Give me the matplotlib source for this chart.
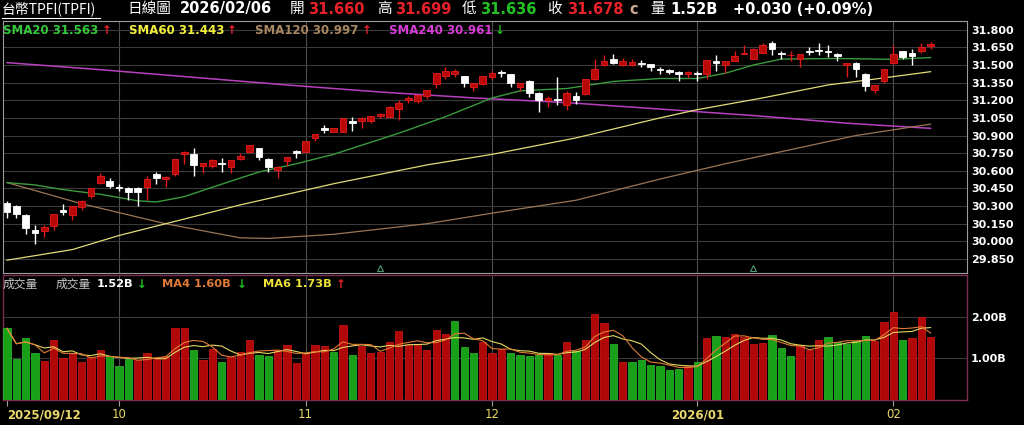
import numpy as np
import pandas as pd
import matplotlib
matplotlib.use("Agg")
import matplotlib.pyplot as plt
from matplotlib.lines import Line2D

# ---- TPFI daily candles, 2025/09/12 .. 2026/02/06 ----
opens = [30.33, 30.30, 30.22, 30.10, 30.09, 30.13, 30.27, 30.22, 30.29, 30.39,
         30.50, 30.51, 30.465, 30.45, 30.45, 30.46, 30.57, 30.53, 30.57, 30.74,
         30.74, 30.64, 30.64, 30.665, 30.63, 30.70, 30.76, 30.79, 30.70, 30.61,
         30.68, 30.765, 30.76, 30.88, 30.96, 30.93, 30.93, 31.025, 31.02, 31.02,
         31.07, 31.06, 31.125, 31.20, 31.19, 31.24, 31.34, 31.405, 31.42, 31.405,
         31.31, 31.34, 31.40, 31.44, 31.42, 31.31, 31.365, 31.265, 31.20, 31.21,
         31.16, 31.24, 31.25, 31.38, 31.50, 31.55, 31.50, 31.50, 31.515, 31.505,
         31.465, 31.455, 31.44, 31.42, 31.43, 31.42, 31.53, 31.50, 31.535, 31.593,
         31.555, 31.605, 31.685, 31.605, 31.582, 31.55, 31.615, 31.63, 31.62, 31.595,
         31.50, 31.52, 31.42, 31.29, 31.36, 31.52, 31.615, 31.605, 31.62, 31.66]
highs = [30.34, 30.31, 30.23, 30.14, 30.14, 30.23, 30.32, 30.30, 30.35, 30.45,
         30.58, 30.54, 30.49, 30.46, 30.46, 30.56, 30.59, 30.56, 30.70, 30.77,
         30.79, 30.67, 30.70, 30.71, 30.69, 30.75, 30.82, 30.79, 30.71, 30.64,
         30.72, 30.78, 30.85, 30.915, 30.99, 30.96, 31.05, 31.055, 31.055, 31.07,
         31.09, 31.15, 31.20, 31.235, 31.25, 31.29, 31.43, 31.48, 31.47, 31.41,
         31.345, 31.41, 31.45, 31.455, 31.42, 31.345, 31.37, 31.27, 31.235, 31.40,
         31.28, 31.27, 31.38, 31.55, 31.585, 31.59, 31.56, 31.55, 31.54, 31.51,
         31.485, 31.465, 31.445, 31.445, 31.45, 31.545, 31.585, 31.53, 31.62, 31.67,
         31.645, 31.685, 31.705, 31.62, 31.62, 31.595, 31.65, 31.69, 31.67, 31.60,
         31.515, 31.525, 31.435, 31.33, 31.47, 31.67, 31.62, 31.64, 31.685, 31.699]
lows = [30.20, 30.20, 30.06, 29.98, 30.04, 30.10, 30.22, 30.18, 30.27, 30.37,
        30.49, 30.45, 30.43, 30.35, 30.30, 30.35, 30.49, 30.46, 30.56, 30.66,
        30.56, 30.58, 30.62, 30.59, 30.58, 30.69, 30.76, 30.69, 30.59, 30.54,
        30.64, 30.71, 30.76, 30.85, 30.92, 30.93, 30.93, 30.94, 30.96, 31.01,
        31.05, 31.055, 31.03, 31.18, 31.18, 31.21, 31.30, 31.385, 31.40, 31.31,
        31.28, 31.33, 31.385, 31.40, 31.315, 31.28, 31.23, 31.10, 31.14, 31.16,
        31.12, 31.17, 31.245, 31.37, 31.49, 31.505, 31.495, 31.495, 31.48, 31.445,
        31.42, 31.42, 31.36, 31.39, 31.36, 31.38, 31.445, 31.435, 31.53, 31.59,
        31.55, 31.60, 31.585, 31.555, 31.535, 31.485, 31.585, 31.585, 31.565, 31.535,
        31.40, 31.395, 31.28, 31.265, 31.35, 31.51, 31.555, 31.50, 31.60, 31.636]
closes = [30.25, 30.23, 30.11, 30.07, 30.12, 30.23, 30.25, 30.30, 30.34, 30.45,
          30.56, 30.47, 30.45, 30.42, 30.42, 30.53, 30.54, 30.55, 30.70, 30.76,
          30.65, 30.67, 30.69, 30.655, 30.69, 30.73, 30.82, 30.72, 30.63, 30.635,
          30.72, 30.755, 30.85, 30.91, 30.95, 30.96, 31.05, 31.01, 31.05, 31.065,
          31.08, 31.145, 31.18, 31.215, 31.245, 31.285, 31.43, 31.45, 31.445, 31.345,
          31.345, 31.405, 31.435, 31.43, 31.345, 31.345, 31.265, 31.20, 31.22, 31.20,
          31.265, 31.20, 31.38, 31.47, 31.535, 31.515, 31.535, 31.525, 31.505, 31.48,
          31.457, 31.443, 31.425, 31.44, 31.42, 31.54, 31.515, 31.53, 31.575, 31.60,
          31.64, 31.67, 31.635, 31.595, 31.587, 31.595, 31.607, 31.62, 31.61, 31.575,
          31.515, 31.47, 31.32, 31.33, 31.465, 31.595, 31.57, 31.58, 31.655, 31.678]

# volume in billions, r = up day (red), g = down day (green)
volumes = [1.72, 0.98, 1.48, 1.12, 0.94, 1.43, 1.00, 1.10, 0.905, 1.025,
           1.20, 1.06, 0.825, 0.98, 0.96, 1.12, 1.00, 1.06, 1.74, 1.72,
           1.20, 0.96, 1.225, 0.92, 1.025, 1.16, 1.44, 1.08, 1.065, 1.20,
           1.32, 0.88, 1.12, 1.32, 1.30, 1.16, 1.80, 1.08, 1.30, 1.14,
           1.16, 1.385, 1.66, 1.32, 1.32, 1.20, 1.67, 1.58, 1.90, 1.27,
           1.12, 1.40, 1.14, 1.22, 1.14, 1.08, 1.06, 1.08, 1.12, 1.08,
           1.40, 1.18, 1.44, 2.07, 1.84, 1.34, 0.92, 0.92, 0.96, 0.84,
           0.825, 0.72, 0.745, 0.825, 0.92, 1.50, 1.54, 1.51, 1.59, 1.52,
           1.34, 1.38, 1.56, 1.24, 1.06, 1.32, 1.20, 1.43, 1.51, 1.40,
           1.35, 1.42, 1.54, 1.42, 1.88, 2.11, 1.44, 1.48, 2.00, 1.52]
vol_dir = ("ggggrrrrrrrgggrrrrrrgrrgrrrggrrrrrrgrgrrrrrrrrrrggg"
           "rrrggggrgrgrrrgrggggggrgrgrrrrrgggrrrgggggrrrgrrr")

# moving-average lines, read at knots (bar index, value)
sma20_i = [0, 3, 6, 10, 14, 16, 19, 22, 27, 31, 35, 42, 47, 52, 55, 60, 65, 70, 74, 77, 80, 83, 89, 95, 99]
sma20_v = [30.50, 30.48, 30.44, 30.40, 30.345, 30.335, 30.38, 30.46, 30.59, 30.66, 30.74, 30.92, 31.06,
           31.22, 31.28, 31.30, 31.36, 31.385, 31.385, 31.43, 31.50, 31.55, 31.555, 31.548, 31.563]
sma60_i = [0, 7, 12, 17, 25, 35, 45, 52, 61, 70, 74, 81, 88, 93, 99]
sma60_v = [29.84, 29.93, 30.05, 30.15, 30.31, 30.49, 30.65, 30.74, 30.88, 31.05, 31.12, 31.22, 31.33, 31.38, 31.443]
sma120_i = [0, 8, 17, 25, 28, 35, 45, 52, 61, 70, 77, 84, 91, 99]
sma120_v = [30.50, 30.32, 30.15, 30.03, 30.025, 30.06, 30.15, 30.24, 30.35, 30.53, 30.66, 30.78, 30.90, 30.997]
sma240_i = [0, 10, 20, 30, 35, 40, 50, 60, 70, 80, 90, 99]
sma240_v = [31.52, 31.46, 31.395, 31.33, 31.30, 31.27, 31.22, 31.18, 31.125, 31.07, 31.005, 30.961]

month_idx = [0, 12, 32, 52, 74, 95]
month_lab = ["2025/09/12", "10", "11", "12", "2026/01", "02"]
tri_idx = [40, 80]

W, H = 1024, 425
CJK = ["Noto Sans CJK TC", "DejaVu Sans"]
RED, GREEN = "#e8202a", "#22c022"

fig = plt.figure(figsize=(W / 100, H / 100), dpi=100, facecolor="black")


def px_axes(x0, y0, x1, y1):
    return fig.add_axes([x0 / W, 1 - y1 / H, (x1 - x0) / W, (y1 - y0) / H])


def ftxt(x, y, s, color="white", size=8.5, bold=True, family=None):
    fig.text(x / W, 1 - y / H, s, color=color, fontsize=size, va="center", ha="left",
             fontweight="bold" if bold else "normal", family=family or "DejaVu Sans")


ax = px_axes(3, 21, 967, 273)
axv = px_axes(3, 275, 967, 400)
XL = (-0.43, 102.9)

for a in (ax, axv):
    a.set_facecolor("black")
    a.set_xlim(*XL)
    a.yaxis.tick_right()
    a.tick_params(axis="y", length=0, pad=3, labelcolor="white", labelsize=8)
    for m in month_idx[1:]:
        a.axvline(m, color="#505050", lw=0.8, zorder=0)

# ---- price panel ----
x = np.arange(len(closes))
o, h, l, c = map(np.array, (opens, highs, lows, closes))
up = c >= o
ax.vlines(x[up], l[up], h[up], color="#e01818", lw=1, zorder=3)
ax.vlines(x[~up], l[~up], h[~up], color="white", lw=1, zorder=3)
bot = np.minimum(o, c)
hgt = np.maximum(np.abs(c - o), 0.005)
ax.bar(x[up], hgt[up], bottom=bot[up], width=0.72, color="#b80808", edgecolor="#e81c1c", lw=0.6, zorder=4)
ax.bar(x[~up], hgt[~up], bottom=bot[~up], width=0.72, color="white", edgecolor="white", lw=0.6, zorder=4)

ax.plot(sma240_i, sma240_v, color="#b840c0", lw=1.1, zorder=2)
ax.plot(sma120_i, sma120_v, color="#9a7656", lw=0.9, zorder=2)
ax.plot(sma60_i, sma60_v, color="#e2dc78", lw=0.9, zorder=2)
ax.plot(sma20_i, sma20_v, color="#3a9a3e", lw=1.0, zorder=2)

ax.plot(tri_idx, [0.02] * len(tri_idx), transform=ax.get_xaxis_transform(), ls="none",
        marker="^", ms=5, mfc="none", mec="#4f9a70", mew=0.8)

ax.set_ylim(29.731, 31.874)
ticks = np.round(np.arange(29.85, 31.80 + 0.001, 0.15), 3)
ax.set_yticks(ticks)
ax.set_yticklabels([f"{t:.3f}" for t in ticks], fontweight="bold")
ax.grid(axis="y", color="#3a3a3a", lw=0.8)
ax.set_xticks([])
for s in ax.spines.values():
    s.set_color("#9c9c9c")
    s.set_linewidth(0.8)

# ---- volume panel ----
v = np.array(volumes)
vcols = ["#b00808" if d == "r" else "#18a018" for d in vol_dir]
vedge = ["#d81818" if d == "r" else "#30c030" for d in vol_dir]
axv.bar(x, v, width=0.78, color=vcols, edgecolor=vedge, lw=0.5, zorder=3)
vs = pd.Series(volumes)
axv.plot(x, vs.rolling(6, min_periods=1).mean(), color="#e4d860", lw=0.8, zorder=4)
axv.plot(x, vs.rolling(4, min_periods=1).mean(), color="#e07a34", lw=0.8, zorder=4)
axv.set_ylim(0, 3.0)
axv.set_yticks([1, 2])
axv.set_yticklabels(["1.00B", "2.00B"], fontweight="bold")
axv.grid(axis="y", color="#3a3a3a", lw=0.8)
axv.set_xticks(month_idx)
axv.set_xticklabels(month_lab)
axv.tick_params(axis="x", length=4, color="#a0a0a0", pad=2, labelcolor="#e8d868", labelsize=8.5)
for lab, t in zip(axv.get_xticklabels(), month_lab):
    lab.set_fontweight("bold" if "/" in t else "normal")
axv.get_xticklabels()[0].set_horizontalalignment("left")
axv.get_xticklabels()[0].set_x(-0.43)
for s in axv.spines.values():
    s.set_color("#7c2c50")
    s.set_linewidth(1.0)

# ---- header ----
ftxt(2, 9, "台幣TPFI(TPFI)", size=10, bold=False, family=CJK)
fig.add_artist(Line2D([2 / W, 100 / W], [1 - 18 / H] * 2, color="white", lw=0.8))
ftxt(127, 9, "日線圖", size=10.5, bold=False, family=CJK)
ftxt(180, 9, "2026/02/06", size=10.5)
ftxt(290, 9, "開", size=10.5, bold=False, family=CJK)
ftxt(308, 9, "31.660", color=RED, size=10.5)
ftxt(377, 9, "高", size=10.5, bold=False, family=CJK)
ftxt(395, 9, "31.699", color=RED, size=10.5)
ftxt(462, 9, "低", size=10.5, bold=False, family=CJK)
ftxt(480, 9, "31.636", color=GREEN, size=10.5)
ftxt(547, 9, "收", size=10.5, bold=False, family=CJK)
ftxt(567, 9, "31.678", color=RED, size=10.5)
ftxt(629, 9, "c", color="#c8a890", size=10.5)
ftxt(650, 9, "量", size=10.5, bold=False, family=CJK)
ftxt(670, 9, "1.52B", size=10.5)
ftxt(733, 9, "+0.030 (+0.09%)", size=10.5)

# SMA legend
ftxt(3, 31, "SMA20 31.563", color="#34c83a")
ftxt(102, 31, "↑", color=RED)
ftxt(129, 31, "SMA60 31.443", color="#f2ee3c")
ftxt(227, 31, "↑", color=RED)
ftxt(255, 31, "SMA120 30.997", color="#a88660")
ftxt(362, 31, "↑", color=RED)
ftxt(389, 31, "SMA240 30.961", color="#d83cd8")
ftxt(495, 31, "↓", color=GREEN)

# volume legend
ftxt(3, 284, "成交量", color="#c8c8c8", bold=False, family=CJK)
ftxt(56, 284, "成交量", color="#c8c8c8", bold=False, family=CJK)
ftxt(97, 284, "1.52B", color="white", size=8.2)
ftxt(137, 284, "↓", color=GREEN)
ftxt(162, 284, "MA4 1.60B", color="#e07a34", size=8.2)
ftxt(237, 284, "↓", color=GREEN)
ftxt(263, 284, "MA6 1.73B", color="#ece238", size=8.2)
ftxt(336, 284, "↑", color=RED)

fig.savefig("out.png", dpi=100, facecolor="black")
